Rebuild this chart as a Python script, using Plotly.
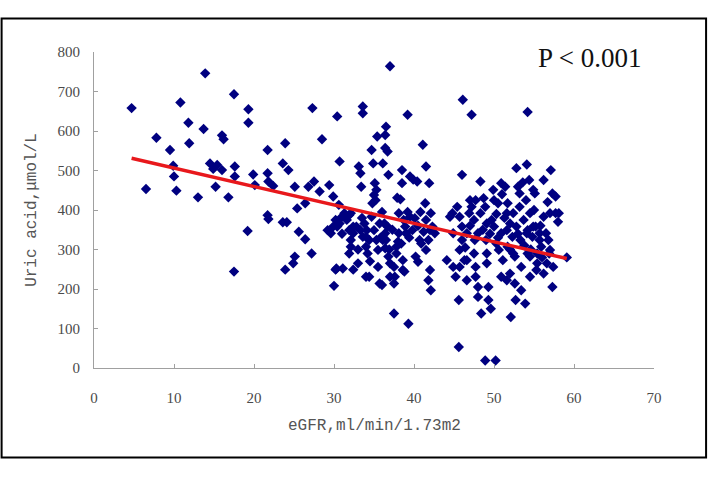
import plotly.graph_objects as go

# ---- data ----
egfr_low = [4.7, 6.5, 7.8, 9.5, 9.9, 10.0, 10.3, 10.8, 11.8, 11.9, 13.0, 13.7, 13.9, 14.5, 14.9, 15.2,
            15.4, 16.0, 16.2, 16.0, 16.8, 17.5, 17.5, 17.6, 17.6, 19.3, 19.3, 19.2, 19.9, 20.1, 21.7, 21.7,
            21.8, 21.7, 21.8, 22.4, 23.6, 23.9, 23.6, 24.3, 24.1, 23.9, 25.1, 25.1, 24.9, 25.4, 25.6, 26.4,
            26.4, 26.8, 27.3, 27.5, 27.2, 28.2, 28.5, 29.4, 29.2, 29.9, 30.0, 30.4, 30.7, 30.6, 30.2]
uric_low = [658, 453, 583, 552, 512, 485, 449, 672, 621, 569, 432, 605, 746, 518, 504, 459,
            514, 589, 579, 501, 432, 693, 244, 510, 485, 655, 621, 347, 490, 463, 552, 493,
            472, 387, 377, 461, 369, 569, 518, 501, 369, 249, 459, 282, 265, 404, 345, 326,
            417, 459, 658, 472, 290, 447, 579, 463, 349, 434, 208, 637, 523, 413, 249]

egfr_mid = [29.6, 29.9, 30.2, 30.4, 30.8, 31.3, 31.6, 31.9, 31.1, 32.1, 31.9, 32.1, 32.4, 31.9, 32.1, 32.4,
            33.0, 33.1, 33.3, 33.4, 33.6, 33.6, 32.8, 33.3, 33.6, 33.8, 34.1, 34.0, 34.4, 34.2, 34.4, 34.7,
            34.9, 35.1, 35.3, 35.0, 35.2, 34.8, 35.4, 34.7, 35.0, 35.3, 35.5, 35.5, 36.0, 36.1, 36.5, 36.4,
            36.4, 36.7, 36.8, 37.0, 36.3, 36.7, 36.4, 36.1, 36.4, 36.8, 37.0, 37.5, 37.6, 37.5, 37.5, 37.9,
            38.3, 38.1, 38.4, 37.8, 38.6, 38.8, 38.5, 38.5, 38.1, 38.7, 38.9, 39.2, 39.3, 39.5, 39.9, 40.4,
            39.5, 40.1, 39.8, 40.2, 40.5, 40.9, 41.1, 41.5, 41.4, 41.9, 42.1, 41.5, 42.3, 41.8, 41.5, 42.0,
            41.8, 42.1, 42.6, 30.7, 32.4, 34.0, 35.7, 36.5, 37.8, 39.0, 40.7, 42.0, 30.3, 34.0, 35.7, 37.0,
            38.6, 31.0, 33.0, 34.5, 35.8, 36.9, 37.3, 38.0, 39.4, 40.5, 41.2, 33.5, 36.0, 39.2, 40.8]
uric_mid = [341, 358, 375, 358, 379, 392, 375, 387, 252, 392, 349, 324, 341, 290, 307, 249,
            265, 510, 493, 459, 662, 645, 358, 349, 332, 366, 349, 307, 324, 290, 231, 552,
            518, 468, 451, 438, 425, 417, 586, 383, 349, 324, 299, 256, 210, 518, 611, 590,
            557, 548, 489, 764, 366, 358, 341, 324, 303, 282, 265, 256, 231, 214, 138, 431,
            427, 341, 315, 290, 273, 244, 501, 468, 392, 375, 358, 641, 112, 485, 477, 472,
            383, 379, 349, 282, 269, 315, 565, 510, 417, 468, 392, 375, 358, 324, 299, 248,
            222, 197, 341, 366, 358, 332, 366, 324, 307, 341, 324, 349, 252, 231, 214, 231,
            248, 340, 300, 270, 330, 300, 350, 320, 330, 360, 345, 380, 395, 395, 395]

egfr_high = [44.5, 44.8, 44.9, 44.9, 45.2, 45.4, 45.6, 45.6, 45.7, 46.0, 46.1, 46.0, 46.0, 46.3, 46.6, 46.6,
             46.9, 47.2, 47.2, 47.5, 47.6, 47.7, 47.5, 47.7, 47.7, 48.0, 48.0, 48.0, 48.3, 48.3, 48.4, 48.9,
             48.9, 49.0, 49.1, 49.1, 49.3, 49.3, 49.6, 49.7, 49.9, 50.0, 50.0, 50.2, 50.3, 50.5, 50.6, 50.9,
             50.9, 50.9, 51.1, 51.4, 51.6, 51.7, 51.7, 52.0, 52.0, 52.1, 52.3, 52.4, 52.6, 52.6, 52.7, 52.8,
             53.0, 52.8, 53.3, 53.4, 53.4, 53.7, 53.9, 54.0, 54.1, 54.2, 54.2, 54.2, 54.4, 54.5, 54.5, 54.8,
             55.1, 55.2, 55.4, 55.4, 55.7, 55.9, 56.2, 56.2, 56.2, 56.5, 56.8, 56.9, 57.1, 57.3, 57.3, 57.7,
             57.4, 57.7, 58.0, 58.1, 59.1, 45.7, 47.0, 49.1, 51.6, 53.2, 54.1, 54.9, 55.7, 57.0, 57.0, 46.6,
             52.4, 54.5, 55.3, 56.6, 51.6, 45.7, 44.1, 53.2, 54.9, 50.5, 51.3, 53.8, 54.6, 55.8, 56.0, 53.0,
             48.6, 47.0, 46.4, 49.5, 52.0, 55.0, 56.7, 53.6, 51.0, 48.7, 50.3]
uric_high = [383, 392, 341, 256, 231, 408, 53, 172, 299, 489, 679, 358, 324, 273, 222, 341,
             392, 641, 408, 375, 324, 425, 290, 256, 231, 341, 205, 180, 472, 392, 138, 408,
             19, 324, 265, 290, 205, 172, 150, 375, 451, 425, 358, 19, 315, 417, 299, 468,
             341, 231, 273, 459, 349, 307, 417, 366, 239, 129, 332, 392, 282, 214, 172, 506,
             459, 358, 324, 256, 197, 375, 163, 425, 515, 648, 349, 290, 476, 392, 231, 332,
             442, 358, 290, 265, 341, 307, 476, 383, 239, 341, 324, 290, 501, 442, 205, 434,
             256, 392, 370, 392, 280, 383, 425, 366, 392, 408, 341, 358, 324, 392, 299, 273,
             290, 282, 248, 265, 222, 256, 273, 442, 451, 330, 380, 310, 300, 360, 280, 340,
             350, 360, 305, 340, 300, 400, 420, 470, 440, 430, 390]

trend_x = [4.7, 59.1]
trend_y = [531, 277]

x_ticks = [0, 10, 20, 30, 40, 50, 60, 70]
y_ticks = [0, 100, 200, 300, 400, 500, 600, 700, 800]

egfr = egfr_low + egfr_mid + egfr_high
uric = uric_low + uric_mid + uric_high

fig = go.Figure()
fig.add_trace(go.Scatter(
    x=egfr, y=uric, mode="markers",
    marker=dict(symbol="diamond", size=8, color="#000080", line=dict(width=0)),
    hoverinfo="skip"))
fig.add_trace(go.Scatter(
    x=trend_x, y=trend_y, mode="lines",
    line=dict(color="#e8181c", width=3.5), hoverinfo="skip"))

axis_common = dict(showgrid=False, zeroline=False, showline=True, linecolor="#a0a0a0",
                   linewidth=1, ticks="inside", tickcolor="#a0a0a0", ticklen=4,
                   automargin=False,
                   tickfont=dict(family="Liberation Serif", size=15, color="#4a4a4a"))
fig.update_xaxes(range=[0, 70], tickvals=x_ticks, ticklabelstandoff=16, **axis_common)
fig.update_yaxes(range=[0, 800], tickvals=y_ticks, ticklabelstandoff=10, **axis_common)

fig.update_layout(
    width=708, height=477,
    margin=dict(l=94, r=54, t=52, b=109, autoexpand=False),
    paper_bgcolor="white", plot_bgcolor="white",
    showlegend=False,
    annotations=[
        dict(text="eGFR,ml/min/1.73m2", xref="paper", yref="paper", x=0.5, y=-0.182,
             xanchor="center", yanchor="middle", showarrow=False,
             font=dict(family="Liberation Mono", size=16, color="#555555")),
        dict(text="Uric acid,μmol/L", xref="paper", yref="paper", x=-0.111, y=0.5,
             xanchor="center", yanchor="middle", showarrow=False, textangle=-90,
             font=dict(family="Liberation Mono", size=16, color="#555555")),
        dict(text="P < 0.001", xref="paper", yref="paper", x=0.789, y=0.982,
             xanchor="left", yanchor="middle", showarrow=False,
             font=dict(family="Liberation Serif", size=27, color="#111111")),
    ],
    shapes=[
        dict(type="rect", xref="paper", yref="paper", x0=-0.165, x1=1.093, y0=-0.283, y1=1.106,
             line=dict(color="black", width=2), fillcolor="rgba(0,0,0,0)", layer="below"),
    ],
)

fig.write_html("out.html", config={"displayModeBar": False},
               post_script="document.body.style.margin='0px';")
